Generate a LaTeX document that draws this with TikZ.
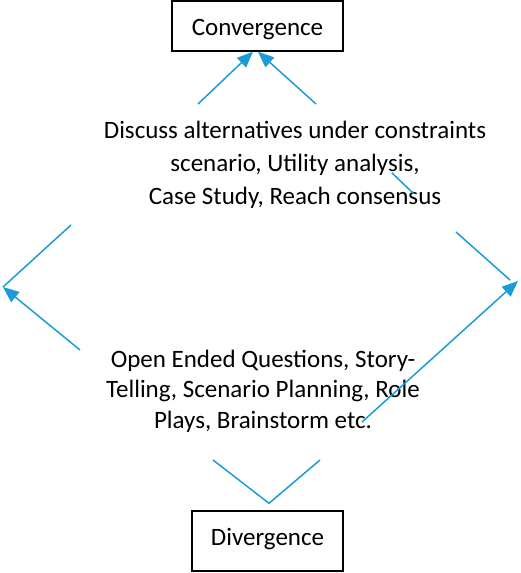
\documentclass[tikz,border=0pt]{standalone}
\usepackage{fontspec}
\setmainfont{Carlito}
\usepackage{xcolor}
\usetikzlibrary{arrows.meta, positioning}
\definecolor{flowblue}{RGB}{27,155,215}

\begin{document}
\begin{tikzpicture}[
    x=1pt, y=-1pt,
    font=\fontsize{25}{33}\selectfont,
    stage/.style={draw, line width=1.4pt, inner sep=0pt, align=center},
    notes/.style={inner sep=0pt, align=center},
    flow/.style={draw=flowblue, line width=1.5pt},
    flowtip/.style={flow, -{Triangle[length=16pt, width=13pt]}}
]
    \useasboundingbox (0,0) rectangle (520,573);

    % Stages
    \node[stage, minimum width=171pt, minimum height=50pt, text height=24pt, text depth=6pt] (conv) at (257.5,26) {Convergence};
    \node[stage, minimum width=151pt, minimum height=60pt, text height=16pt, text depth=8pt] (div) at (267.5,541) {Divergence};

    % Activities
    \node[notes] (discuss) at (295,165) {Discuss alternatives under constraints\\scenario, Utility analysis,\\Case Study, Reach consensus};
    \node[notes, font=\fontsize{25}{30.5}\selectfont] (open) at (263,391) {Open Ended Questions, Story-\\Telling, Scenario Planning, Role\\Plays, Brainstorm etc.};

    % Free ends
    \coordinate (convL) at (198,104);
    \coordinate (convR) at (316,104);
    \coordinate (leftA) at (71,225);
    \coordinate (leftB) at (80,350);
    \coordinate (leftTip) at (3,287);
    \coordinate (rightA) at (456,232);
    \coordinate (rightEnd) at (510,280);
    \coordinate (rightB) at (362,422);
    \coordinate (rightTip) at (518,281);
    \coordinate (strayA) at (392,173);
    \coordinate (strayB) at (413,193);
    \coordinate (vL) at (213,460);
    \coordinate (vR) at (320,460);
    \coordinate (vTip) at ([xshift=1.5pt, yshift=7pt]div.north);

    % Arrows into Convergence
    \draw[flowtip] (convL) -- ([xshift=-4.5pt]conv.south);
    \draw[flowtip] (convR) -- ([xshift=0.5pt]conv.south);

    % Left side
    \draw[flow] (leftA) -- (leftTip);
    \draw[flowtip] (leftB) -- (leftTip);

    % Right side
    \draw[flow] (rightA) -- (rightEnd);
    \draw[flowtip] (rightB) -- (rightTip);
    \draw[flow] (strayA) -- (strayB);

    % Out of Divergence
    \draw[flow] (vL) -- (vTip) -- (vR);

\end{tikzpicture}
\end{document}
